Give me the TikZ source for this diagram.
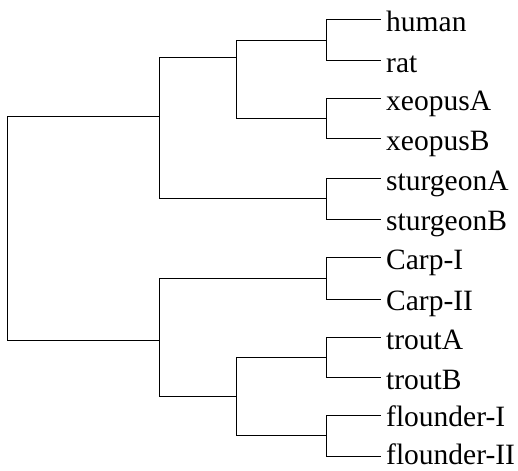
\documentclass[tikz,border=0pt]{standalone}
\usepackage{fontspec}
\setmainfont{Liberation Serif}
\begin{document}
\begin{tikzpicture}[x=1pt,y=-1pt,
  branch/.style={draw=black,line width=1pt},
  leaf/.style={anchor=base west,inner sep=0pt,font=\fontsize{29.5}{32}\selectfont}]
\useasboundingbox (0,0) rectangle (518,470);
% leaf tips
\foreach \n/\y in {human/20,rat/60.5,xeopusA/99,xeopusB/138.5,sturgeonA/178.5,sturgeonB/219,CarpI/257.5,CarpII/299,troutA/337.5,troutB/377.5,flounderI/415,flounderII/456}
  \coordinate (t-\n) at (380.7,\y);
% leaf labels
\node[leaf] (l-human) at (386,32) {human};
\node[leaf] (l-rat) at (386,72.5) {rat};
\node[leaf] (l-xeopusA) at (386,111) {xeopusA};
\node[leaf] (l-xeopusB) at (386,150.5) {xeopusB};
\node[leaf] (l-sturgeonA) at (386,190.5) {sturgeonA};
\node[leaf] (l-sturgeonB) at (386,230.5) {sturgeonB};
\node[leaf] (l-CarpI) at (386,269.5) {Carp-I};
\node[leaf] (l-CarpII) at (386,310) {Carp-II};
\node[leaf] (l-troutA) at (386,349) {troutA};
\node[leaf] (l-troutB) at (386,389) {troutB};
\node[leaf] (l-flounderI) at (386,426.7) {flounder-I};
\node[leaf] (l-flounderII) at (386,464) {flounder-II};
% internal nodes
\coordinate (hr) at (326.7,40.25);
\coordinate (xe) at (326.7,118.75);
\coordinate (st) at (326.7,198.75);
\coordinate (ca) at (326.7,278.25);
\coordinate (tr) at (326.7,357.5);
\coordinate (fl) at (326.7,435.5);
\coordinate (hx) at (236,57.5);
\coordinate (tf) at (236,396.5);
\coordinate (top) at (159,117);
\coordinate (bot) at (159,340);
\coordinate (root) at (7.3,228);
% branches
\draw[branch] (hr) |- (t-human);
\draw[branch] (hr) |- (t-rat);
\draw[branch] (xe) |- (t-xeopusA);
\draw[branch] (xe) |- (t-xeopusB);
\draw[branch] (st) |- (t-sturgeonA);
\draw[branch] (st) |- (t-sturgeonB);
\draw[branch] (ca) |- (t-CarpI);
\draw[branch] (ca) |- (t-CarpII);
\draw[branch] (tr) |- (t-troutA);
\draw[branch] (tr) |- (t-troutB);
\draw[branch] (fl) |- (t-flounderI);
\draw[branch] (fl) |- (t-flounderII);
\draw[branch] (hx) |- (hr);
\draw[branch] (hx) |- (xe);
\draw[branch] (tf) |- (tr);
\draw[branch] (tf) |- (fl);
\draw[branch] (top) |- (hx);
\draw[branch] (top) |- (st);
\draw[branch] (bot) |- (ca);
\draw[branch] (bot) |- (tf);
\draw[branch] (root) |- (top);
\draw[branch] (root) |- (bot);
\end{tikzpicture}
\end{document}
